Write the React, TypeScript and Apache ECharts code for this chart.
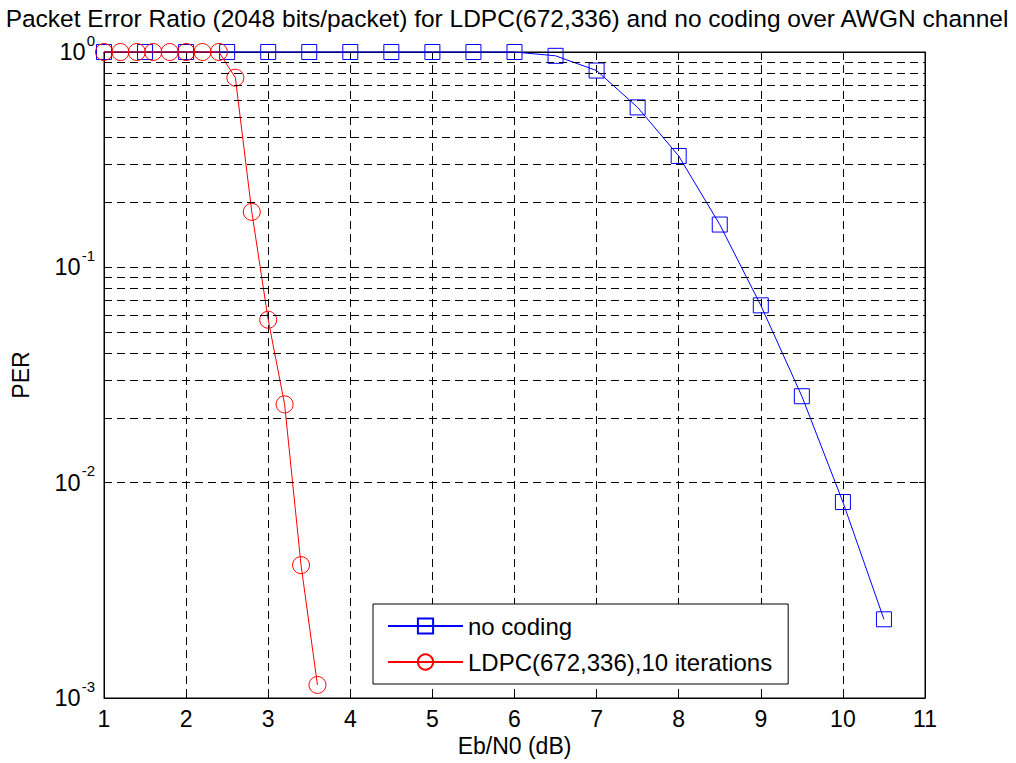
import React, { useEffect, useRef } from "react";
import * as echarts from "echarts";

const titleText =
  "Packet Error Ratio (2048 bits/packet) for LDPC(672,336) and no coding over AWGN channel";

const noCodingEbN0 = [1, 1.5, 2, 2.5, 3, 3.5, 4, 4.5, 5, 5.5, 6, 6.5, 7, 7.5, 8, 8.5, 9, 9.5, 10, 10.5];
const noCodingPER = [1, 1, 1, 1, 1, 1, 1, 1, 1, 1, 1, 0.96, 0.82, 0.553, 0.329, 0.158, 0.0666, 0.0252, 0.00813, 0.00232];

const ldpcEbN0 = [1, 1.2, 1.4, 1.6, 1.8, 2.0, 2.2, 2.4, 2.6, 2.8, 3.0, 3.2, 3.4, 3.6];
const ldpcPER = [1, 1, 1, 1, 1, 1, 1, 1, 0.76, 0.181, 0.0571, 0.0231, 0.00414, 0.00115];

const minorGridValues = [
  0.002, 0.003, 0.004, 0.005, 0.006, 0.007, 0.008, 0.009,
  0.02, 0.03, 0.04, 0.05, 0.06, 0.07, 0.08, 0.09,
  0.2, 0.3, 0.4, 0.5, 0.6, 0.7, 0.8, 0.9,
];

const FONT = "'Liberation Sans', Arial, Helvetica, sans-serif";
const DASH = [8, 5];

export default function App() {
  const ref = useRef<HTMLDivElement>(null);
  useEffect(() => {
    document.body.style.margin = "0";
    const chart = echarts.init(ref.current!, null, { renderer: "svg" });
    const gridLine = { show: true, lineStyle: { color: "#000", width: 1, type: DASH } };
    chart.setOption({
      animation: false,
      backgroundColor: "#fff",
      textStyle: { fontFamily: FONT, color: "#000" },
      title: {
        text: titleText,
        left: 507,
        textAlign: "center",
        top: 6,
        padding: 0,
        textStyle: { fontFamily: FONT, fontSize: 24.5, lineHeight: 24, fontWeight: "normal", color: "#000" },
      },
      grid: {
        left: 104,
        right: 91,
        top: 52,
        bottom: 65,
        show: true,
        borderColor: "#000",
        borderWidth: 1,
        backgroundColor: "#fff",
      },
      legend: {
        orient: "vertical",
        left: 373,
        top: 604,
        itemWidth: 75,
        itemHeight: 19,
        itemGap: 12,
        padding: [10, 16, 10, 14],
        backgroundColor: "#fff",
        borderColor: "#000",
        borderWidth: 1,
        textStyle: { fontFamily: FONT, fontSize: 24, color: "#000" },
        data: ["no coding", "LDPC(672,336),10 iterations"],
      },
      xAxis: [
        {
          type: "value",
          min: 1,
          max: 11,
          interval: 1,
          name: "Eb/N0 (dB)",
          nameLocation: "middle",
          nameGap: 35,
          nameTextStyle: { fontFamily: FONT, fontSize: 23, color: "#000" },
          axisLine: { show: true, lineStyle: { color: "#000", width: 1 } },
          axisTick: { show: true, inside: true, length: 6, lineStyle: { color: "#000" } },
          axisLabel: { fontFamily: FONT, fontSize: 23, color: "#000", margin: 9 },
          splitLine: gridLine,
        },
        {
          type: "value",
          position: "top",
          min: 1,
          max: 11,
          interval: 1,
          axisLine: { show: true, lineStyle: { color: "#000", width: 1 } },
          axisTick: { show: true, inside: true, length: 6, lineStyle: { color: "#000" } },
          axisLabel: { show: false },
          splitLine: { show: false },
        },
      ],
      yAxis: [
        {
          type: "log",
          logBase: 10,
          min: 0.001,
          max: 1,
          name: "PER",
          nameLocation: "middle",
          nameGap: 72,
          nameTextStyle: { fontFamily: FONT, fontSize: 23, color: "#000" },
          axisLine: { show: true, lineStyle: { color: "#000", width: 1 } },
          axisTick: { show: true, inside: true, length: 6, lineStyle: { color: "#000" } },
          axisLabel: {
            margin: 9,
            formatter: (v: number) => `{b|10}{e|${Math.round(Math.log10(v))}}`,
            rich: {
              b: { fontFamily: FONT, fontSize: 23.5, color: "#000" },
              e: { fontFamily: FONT, fontSize: 15, color: "#000", padding: [0, 0, 24, 1] },
            },
          },
          splitLine: gridLine,
        },
        {
          type: "log",
          logBase: 10,
          min: 0.001,
          max: 1,
          position: "right",
          axisLine: { show: true, lineStyle: { color: "#000", width: 1 } },
          axisTick: { show: true, inside: true, length: 6, lineStyle: { color: "#000" } },
          axisLabel: { show: false },
          splitLine: { show: false },
        },
      ],
      series: [
        {
          name: "gridMinor",
          type: "line",
          data: [],
          silent: true,
          markLine: {
            silent: true,
            symbol: ["none", "none"],
            label: { show: false },
            lineStyle: { color: "#000", width: 1, type: DASH },
            data: minorGridValues.map((v) => ({ yAxis: v })),
          },
        },
        {
          name: "no coding",
          type: "line",
          clip: false,
          data: noCodingEbN0.map((x, i) => [x, noCodingPER[i]]),
          symbol: "rect",
          symbolSize: 15,
          lineStyle: { color: "#0000ff", width: 1 },
          itemStyle: { color: "rgba(0,0,0,0)", borderColor: "#0000ff", borderWidth: 1 },
          z: 3,
        },
        {
          name: "LDPC(672,336),10 iterations",
          type: "line",
          clip: false,
          data: ldpcEbN0.map((x, i) => [x, ldpcPER[i]]),
          symbol: "circle",
          symbolSize: 17,
          lineStyle: { color: "#ff0000", width: 1 },
          itemStyle: { color: "rgba(0,0,0,0)", borderColor: "#ff0000", borderWidth: 1 },
          z: 4,
        },
      ],
    });
    return () => chart.dispose();
  }, []);
  return <div ref={ref} style={{ width: 1016, height: 763 }} />;
}
